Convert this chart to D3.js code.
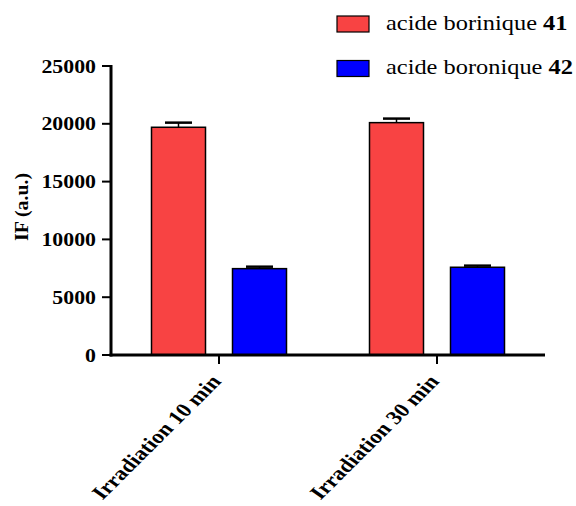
<!DOCTYPE html>
<html><head><meta charset="utf-8">
<script src="https://cdn.jsdelivr.net/npm/d3@7"></script>
<style>body{margin:0;background:#fff}svg{display:block}</style>
</head><body>
<script>
const categories = ["Irradiation 10 min", "Irradiation 30 min"];
const seriesNames = ["acide borinique ", "acide boronique "];
const seriesBold = ["41", "42"];
const borinique = [19700, 20100];
const boriniqueErr = [400, 350];
const boronique = [7470, 7590];
const boroniqueErr = [170, 140];
const yTicks = [0, 5000, 10000, 15000, 20000, 25000];
const colors = ["#F84343", "#0000FF"];

const W = 576, H = 506;
const svg = d3.select("body").append("svg").attr("width", W).attr("height", H);
const font = "Liberation Serif";

const y = d3.scaleLinear().domain([0, 25000]).range([355, 66]);
const x = d3.scalePoint().domain(categories).range([219, 437]);
const barW = 54, gap = 27;
const series = [
  {vals: borinique, err: boriniqueErr, off: -(barW + gap) / 2},
  {vals: boronique, err: boroniqueErr, off: (barW + gap) / 2}
];

// bars
series.forEach((s, si) => {
  categories.forEach((c, i) => {
    const cx = x(c) + s.off;
    svg.append("rect")
      .attr("x", cx - barW / 2).attr("y", y(s.vals[i]))
      .attr("width", barW).attr("height", y(0) - y(s.vals[i]))
      .attr("fill", colors[si]).attr("stroke", "#000").attr("stroke-width", 1.5);
    const top = y(s.vals[i] + s.err[i]);
    svg.append("line").attr("x1", cx).attr("x2", cx)
      .attr("y1", y(s.vals[i])).attr("y2", top)
      .attr("stroke", "#000").attr("stroke-width", 1.5);
    svg.append("line").attr("x1", cx - barW / 4).attr("x2", cx + barW / 4)
      .attr("y1", top).attr("y2", top)
      .attr("stroke", "#000").attr("stroke-width", 2.5);
  });
});

// y axis
svg.append("line").attr("x1", 111).attr("x2", 111).attr("y1", y(25000) - 1).attr("y2", y(0) + 1.5)
  .attr("stroke", "#000").attr("stroke-width", 3);
yTicks.forEach(t => {
  svg.append("line").attr("x1", 102).attr("x2", 111).attr("y1", y(t)).attr("y2", y(t))
    .attr("stroke", "#000").attr("stroke-width", 2);
  svg.append("text")
    .attr("transform", `translate(96,${y(t) + 6.5}) scale(1.18,1)`)
    .attr("text-anchor", "end").attr("font-family", font).attr("font-weight", "bold")
    .attr("font-size", 18.5).text(t);
});
// x axis
svg.append("line").attr("x1", 109.5).attr("x2", 545).attr("y1", y(0)).attr("y2", y(0))
  .attr("stroke", "#000").attr("stroke-width", 3);
categories.forEach(c => {
  svg.append("line").attr("x1", x(c)).attr("x2", x(c)).attr("y1", y(0)).attr("y2", y(0) + 9)
    .attr("stroke", "#000").attr("stroke-width", 2);
  svg.append("text")
    .attr("transform", `translate(${x(c) + 3},${y(0) + 27}) scale(1.2,1) rotate(-50)`)
    .attr("text-anchor", "end").attr("font-family", font).attr("font-weight", "bold")
    .attr("font-size", 19.5).text(c);
});

// y title
svg.append("text")
  .attr("transform", `translate(27.5,207) rotate(-90)`)
  .attr("text-anchor", "middle").attr("font-family", font).attr("font-weight", "bold")
  .attr("font-size", 19.5).attr("textLength", 68).attr("lengthAdjust", "spacingAndGlyphs")
  .text("IF (a.u.)");

// legend
seriesNames.forEach((n, i) => {
  const ly = 16 + i * 44.5;
  svg.append("rect").attr("x", 337).attr("y", ly).attr("width", 32).attr("height", 16)
    .attr("fill", colors[i]).attr("stroke", "#000").attr("stroke-width", 1.2);
  const t = svg.append("text")
    .attr("transform", `translate(386,${ly + 13.5}) scale(1.22,1)`)
    .attr("font-family", font).attr("font-size", 20);
  t.append("tspan").text(n);
  t.append("tspan").attr("font-weight", "bold").text(seriesBold[i]);
});
</script>
</body></html>
